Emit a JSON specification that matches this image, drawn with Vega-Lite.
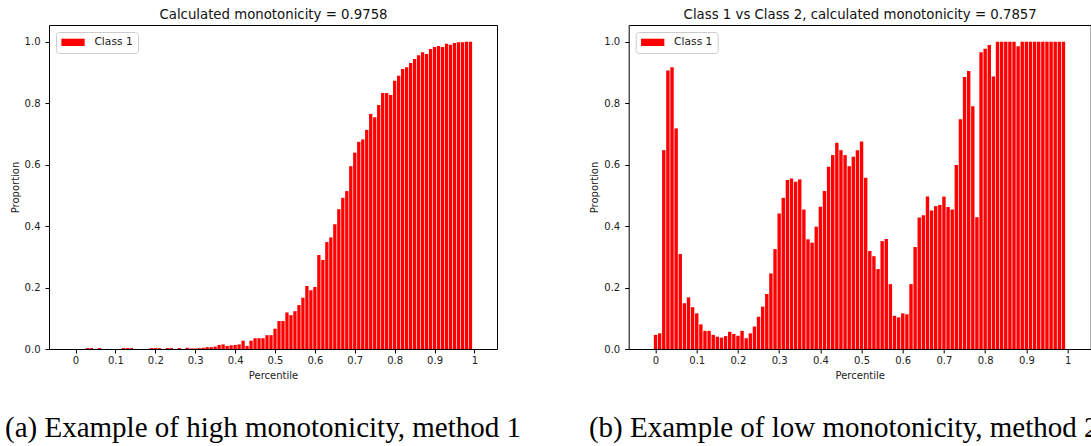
{
"$schema": "https://vega.github.io/schema/vega-lite/v6.json",
"padding": {"left": 4, "top": 6, "right": 0, "bottom": 0},
"background": "white",
"config": {
  "font": "DejaVu Sans",
  "view": {"stroke": "#000", "strokeWidth": 1},
  "axis": {"grid": false, "domain": false, "tickColor": "#000", "tickSize": 4, "tickWidth": 1, "labelFontSize": 10, "labelColor": "#222", "titleFontSize": 10, "titleFontWeight": "normal", "titleColor": "#222"},
  "legend": {"orient": "top-left", "offset": 7, "padding": 5, "strokeColor": "#cccccc", "strokeWidth": 1, "cornerRadius": 3, "fillColor": "#ffffff", "symbolType": "M-1,-0.73H3.66V0.73H-1Z", "symbolSize": 100, "symbolStrokeWidth": 0, "labelFontSize": 10.7, "labelOffset": 22.7, "labelColor": "#222"},
  "title": {"fontWeight": "normal"}
},
"datasets": {
"a": [
{"p":0.00,"v":0},{"p":0.01,"v":0},{"p":0.02,"v":0},{"p":0.03,"v":0.003},{"p":0.04,"v":0.003},{"p":0.05,"v":0},{"p":0.06,"v":0.003},{"p":0.07,"v":0},{"p":0.08,"v":0},{"p":0.09,"v":0},
{"p":0.10,"v":0},{"p":0.11,"v":0},{"p":0.12,"v":0.003},{"p":0.13,"v":0.003},{"p":0.14,"v":0.003},{"p":0.15,"v":0},{"p":0.16,"v":0},{"p":0.17,"v":0},{"p":0.18,"v":0},{"p":0.19,"v":0.003},
{"p":0.20,"v":0.003},{"p":0.21,"v":0.003},{"p":0.22,"v":0},{"p":0.23,"v":0.003},{"p":0.24,"v":0.003},{"p":0.25,"v":0},{"p":0.26,"v":0.003},{"p":0.27,"v":0},{"p":0.28,"v":0.004},{"p":0.29,"v":0.002},
{"p":0.30,"v":0.002},{"p":0.31,"v":0.003},{"p":0.32,"v":0.004},{"p":0.33,"v":0.006},{"p":0.34,"v":0.006},{"p":0.35,"v":0.008},{"p":0.36,"v":0.013},{"p":0.37,"v":0.015},{"p":0.38,"v":0.01},{"p":0.39,"v":0.012},
{"p":0.40,"v":0.013},{"p":0.41,"v":0.015},{"p":0.42,"v":0.027},{"p":0.43,"v":0.01},{"p":0.44,"v":0.027},{"p":0.45,"v":0.035},{"p":0.46,"v":0.035},{"p":0.47,"v":0.035},{"p":0.48,"v":0.045},{"p":0.49,"v":0.045},
{"p":0.50,"v":0.066},{"p":0.51,"v":0.091},{"p":0.52,"v":0.091},{"p":0.53,"v":0.119},{"p":0.54,"v":0.11},{"p":0.55,"v":0.123},{"p":0.56,"v":0.143},{"p":0.57,"v":0.167},{"p":0.58,"v":0.205},{"p":0.59,"v":0.191},
{"p":0.60,"v":0.202},{"p":0.61,"v":0.306},{"p":0.62,"v":0.29},{"p":0.63,"v":0.348},{"p":0.64,"v":0.363},{"p":0.65,"v":0.406},{"p":0.66,"v":0.455},{"p":0.67,"v":0.492},{"p":0.68,"v":0.514},{"p":0.69,"v":0.595},
{"p":0.70,"v":0.639},{"p":0.71,"v":0.674},{"p":0.72,"v":0.682},{"p":0.73,"v":0.713},{"p":0.74,"v":0.765},{"p":0.75,"v":0.754},{"p":0.76,"v":0.794},{"p":0.77,"v":0.833},{"p":0.78,"v":0.833},{"p":0.79,"v":0.827},
{"p":0.80,"v":0.873},{"p":0.81,"v":0.889},{"p":0.82,"v":0.911},{"p":0.83,"v":0.917},{"p":0.84,"v":0.931},{"p":0.85,"v":0.944},{"p":0.86,"v":0.956},{"p":0.87,"v":0.966},{"p":0.88,"v":0.96},{"p":0.89,"v":0.976},
{"p":0.90,"v":0.983},{"p":0.91,"v":0.986},{"p":0.92,"v":0.983},{"p":0.93,"v":0.993},{"p":0.94,"v":0.99},{"p":0.95,"v":0.996},{"p":0.96,"v":0.998},{"p":0.97,"v":0.998},{"p":0.98,"v":1.0},{"p":0.99,"v":1.0}
],
"b": [
{"p":0.00,"v":0.046},{"p":0.01,"v":0.051},{"p":0.02,"v":0.647},{"p":0.03,"v":0.906},{"p":0.04,"v":0.917},{"p":0.05,"v":0.718},{"p":0.06,"v":0.309},{"p":0.07,"v":0.149},{"p":0.08,"v":0.168},{"p":0.09,"v":0.136},
{"p":0.10,"v":0.116},{"p":0.11,"v":0.08},{"p":0.12,"v":0.059},{"p":0.13,"v":0.059},{"p":0.14,"v":0.046},{"p":0.15,"v":0.04},{"p":0.16,"v":0.037},{"p":0.17,"v":0.042},{"p":0.18,"v":0.056},{"p":0.19,"v":0.049},
{"p":0.20,"v":0.043},{"p":0.21,"v":0.059},{"p":0.22,"v":0.035},{"p":0.23,"v":0.051},{"p":0.24,"v":0.073},{"p":0.25,"v":0.105},{"p":0.26,"v":0.138},{"p":0.27,"v":0.179},{"p":0.28,"v":0.246},{"p":0.29,"v":0.325},
{"p":0.30,"v":0.441},{"p":0.31,"v":0.492},{"p":0.32,"v":0.55},{"p":0.33,"v":0.555},{"p":0.34,"v":0.544},{"p":0.35,"v":0.552},{"p":0.36,"v":0.454},{"p":0.37,"v":0.357},{"p":0.38,"v":0.346},{"p":0.39,"v":0.398},
{"p":0.40,"v":0.463},{"p":0.41,"v":0.514},{"p":0.42,"v":0.593},{"p":0.43,"v":0.631},{"p":0.44,"v":0.671},{"p":0.45,"v":0.647},{"p":0.46,"v":0.631},{"p":0.47,"v":0.595},{"p":0.48,"v":0.626},{"p":0.49,"v":0.647},
{"p":0.50,"v":0.675},{"p":0.51,"v":0.557},{"p":0.52,"v":0.319},{"p":0.53,"v":0.302},{"p":0.54,"v":0.26},{"p":0.55,"v":0.351},{"p":0.56,"v":0.358},{"p":0.57,"v":0.211},{"p":0.58,"v":0.108},{"p":0.59,"v":0.103},
{"p":0.60,"v":0.116},{"p":0.61,"v":0.113},{"p":0.62,"v":0.211},{"p":0.63,"v":0.332},{"p":0.64,"v":0.428},{"p":0.65,"v":0.435},{"p":0.66,"v":0.496},{"p":0.67,"v":0.451},{"p":0.68,"v":0.465},{"p":0.69,"v":0.469},
{"p":0.70,"v":0.496},{"p":0.71,"v":0.462},{"p":0.72,"v":0.454},{"p":0.73,"v":0.599},{"p":0.74,"v":0.748},{"p":0.75,"v":0.885},{"p":0.76,"v":0.905},{"p":0.77,"v":0.79},{"p":0.78,"v":0.429},{"p":0.79,"v":0.966},
{"p":0.80,"v":0.977},{"p":0.81,"v":0.989},{"p":0.82,"v":0.887},{"p":0.83,"v":1.0},{"p":0.84,"v":1.0},{"p":0.85,"v":1.0},{"p":0.86,"v":1.0},{"p":0.87,"v":1.0},{"p":0.88,"v":0.985},{"p":0.89,"v":1.0},
{"p":0.90,"v":1.0},{"p":0.91,"v":1.0},{"p":0.92,"v":1.0},{"p":0.93,"v":1.0},{"p":0.94,"v":1.0},{"p":0.95,"v":1.0},{"p":0.96,"v":1.0},{"p":0.97,"v":1.0},{"p":0.98,"v":1.0},{"p":0.99,"v":1.0}
]
},
"spacing": 131.7,
"bounds": "flush",
"resolve": {"scale": {"color": "independent"}, "legend": {"color": "independent"}},
"hconcat": [
{
  "width": 448, "height": 324,
  "data": {"name": "a"},
  "title": {"text": "(a) Example of high monotonicity, method 1", "orient": "bottom", "frame": "group", "anchor": "middle", "dx": -10, "offset": 57, "baseline": "alphabetic", "font": "Liberation Serif", "fontSize": 29, "fontWeight": "normal", "color": "#000"},
  "layer": [
    {"mark": {"type": "bar", "orient": "vertical", "size": 3.3, "color": "#ff0000"},
     "encoding": {
       "x": {"field": "p", "type": "quantitative", "scale": {"domain": [-0.054, 1.044], "nice": false, "zero": false}, "axis": {"orient": "bottom", "values": [0,0.1,0.2,0.3,0.4,0.5,0.6,0.7,0.8,0.9,1], "format": "~g", "title": "Percentile", "labelPadding": 2, "titlePadding": 5}},
       "y": {"field": "v", "type": "quantitative", "scale": {"domain": [0, 1.0544], "nice": false}, "axis": {"values": [0,0.2,0.4,0.6,0.8,1], "format": ".1f", "title": "Proportion", "labelPadding": 5, "titlePadding": 4}},
       "color": {"datum": "Class 1", "type": "nominal", "scale": {"range": ["#ff0000"]}, "legend": {"title": null}}
     }},
    {"mark": {"type": "point", "opacity": 0},
     "encoding": {
       "x": {"field": "p", "type": "quantitative", "axis": {"orient": "top", "labels": false, "ticks": false, "domain": false, "title": "Calculated monotonicity = 0.9758", "titleFontSize": 13.3, "titlePadding": 6.7, "titleBaseline": "alphabetic", "minExtent": 0, "maxExtent": 0, "titleColor": "#111"}}
     }}
  ],
  "resolve": {"axis": {"x": "independent"}}
},
{
  "width": 462, "height": 324,
  "data": {"name": "b"},
  "title": {"text": "(b) Example of low monotonicity, method 2", "orient": "bottom", "frame": "group", "anchor": "middle", "dx": -16, "offset": 57, "baseline": "alphabetic", "font": "Liberation Serif", "fontSize": 29, "fontWeight": "normal", "color": "#000"},
  "layer": [
    {"mark": {"type": "bar", "orient": "vertical", "size": 3.4, "color": "#ff0000"},
     "encoding": {
       "x": {"field": "p", "type": "quantitative", "scale": {"domain": [-0.053, 1.044], "nice": false, "zero": false}, "axis": {"orient": "bottom", "values": [0,0.1,0.2,0.3,0.4,0.5,0.6,0.7,0.8,0.9,1], "format": "~g", "title": "Percentile", "labelPadding": 2, "titlePadding": 5}},
       "y": {"field": "v", "type": "quantitative", "scale": {"domain": [0, 1.0544], "nice": false}, "axis": {"values": [0,0.2,0.4,0.6,0.8,1], "format": ".1f", "title": "Proportion", "labelPadding": 5, "titlePadding": 4}},
       "color": {"datum": "Class 1", "type": "nominal", "scale": {"range": ["#ff0000"]}, "legend": {"title": null}}
     }},
    {"mark": {"type": "point", "opacity": 0},
     "encoding": {
       "x": {"field": "p", "type": "quantitative", "axis": {"orient": "top", "labels": false, "ticks": false, "domain": false, "title": "Class 1 vs Class 2, calculated monotonicity = 0.7857", "titleFontSize": 13.3, "titlePadding": 6.7, "titleBaseline": "alphabetic", "minExtent": 0, "maxExtent": 0, "titleColor": "#111"}}
     }}
  ],
  "resolve": {"axis": {"x": "independent"}}
}
]
}
